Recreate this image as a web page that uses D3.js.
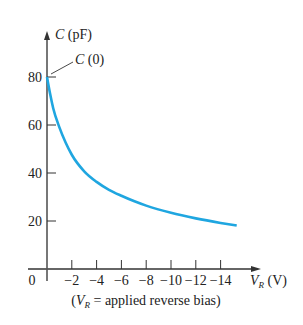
<!DOCTYPE html>
<html>
<head>
<meta charset="utf-8">
<script src="https://cdn.jsdelivr.net/npm/d3@7"></script>
<style>
body { margin:0; background:#fff; }
text { font-family: "Liberation Serif", "DejaVu Serif", serif; fill:#222; }
</style>
</head>
<body>
<div id="chart"></div>
<script>
// reverse bias (V) and capacitance (pF)
var volts = [0, 0.25, 0.5, 1, 1.5, 2, 3, 4, 5, 6, 7, 8, 10, 12, 14, 15.3]
var cap = [80, 73, 67, 59, 52.7, 47.6, 40.7, 36.3, 33, 30.5, 28.3, 26.4, 23.4, 21.1, 19.2, 18.1]
var xTicks = [2, 4, 6, 8, 10, 12, 14]
var yTicks = [20, 40, 60, 80]

var width = 303, height = 325
var svg = d3.select('#chart').append('svg')
            .attr('width', width)
            .attr('height', height)

var x = d3.scaleLinear().domain([0, 15]).range([47, 233])
var y = d3.scaleLinear().domain([0, 80]).range([269, 77])

var axisColor = '#333'
var fs = '14px'

// x axis line with arrow
svg.append('line')
    .attr('x1', 28).attr('x2', 256)
    .attr('y1', y(0)).attr('y2', y(0))
    .style('stroke', axisColor).style('stroke-width', 1.3)
svg.append('path')
    .attr('d', `M${261},${y(0)} L${251},${y(0)-3} L${251},${y(0)+3} Z`)
    .style('fill', axisColor)

// y axis line with arrow
svg.append('line')
    .attr('x1', x(0)).attr('x2', x(0))
    .attr('y1', 281).attr('y2', 37)
    .style('stroke', '#555').style('stroke-width', 1.6)
svg.append('path')
    .attr('d', `M${x(0)},${31} L${x(0)-3},${40} L${x(0)+3},${40} Z`)
    .style('fill', axisColor)

// x ticks (upward)
svg.selectAll('.xt').data(xTicks).enter().append('line')
    .attr('x1', d => x(d)).attr('x2', d => x(d))
    .attr('y1', y(0)).attr('y2', y(0) - 9)
    .style('stroke', axisColor).style('stroke-width', 1)

svg.selectAll('.xl').data(xTicks).enter().append('text')
    .attr('x', d => x(d)).attr('y', 285)
    .attr('text-anchor', 'middle')
    .style('font-size', fs)
    .text(d => '\u2212' + d)

svg.append('text').attr('x', 32).attr('y', 285)
    .attr('text-anchor', 'middle').style('font-size', fs).text('0')

// y ticks (rightward)
svg.selectAll('.yt').data(yTicks).enter().append('line')
    .attr('x1', x(0)).attr('x2', x(0) + 9)
    .attr('y1', d => y(d)).attr('y2', d => y(d))
    .style('stroke', axisColor).style('stroke-width', 1)

svg.selectAll('.yl').data(yTicks).enter().append('text')
    .attr('x', 42).attr('y', d => y(d) + 5)
    .attr('text-anchor', 'end')
    .style('font-size', fs)
    .text(d => d)

// curve
var line = d3.line()
    .x((d, i) => x(volts[i]))
    .y(d => y(d))
    .curve(d3.curveMonotoneX)

svg.append('path')
    .datum(cap)
    .attr('d', line)
    .style('fill', 'none')
    .style('stroke', '#1fa6e0')
    .style('stroke-width', 2.6)

// labels
var cLab = svg.append('text').attr('x', 55).attr('y', 39).style('font-size', fs)
cLab.append('tspan').style('font-style', 'italic').text('C')
cLab.append('tspan').text(' (pF)')

var c0 = svg.append('text').attr('x', 75).attr('y', 64).style('font-size', fs)
c0.append('tspan').style('font-style', 'italic').text('C')
c0.append('tspan').text(' (0)')

svg.append('line')
    .attr('x1', 51).attr('y1', 74).attr('x2', 73).attr('y2', 62)
    .style('stroke', axisColor).style('stroke-width', 0.9)

var vr = svg.append('text').attr('x', 250).attr('y', 285).style('font-size', fs)
vr.append('tspan').style('font-style', 'italic').text('V')
vr.append('tspan').style('font-style', 'italic').style('font-size', '9px').attr('dy', 3).text('R')
vr.append('tspan').attr('dy', -3).text(' (V)')

var note = svg.append('text').attr('x', 146).attr('y', 305)
    .attr('text-anchor', 'middle').style('font-size', fs)
note.append('tspan').text('(')
note.append('tspan').style('font-style', 'italic').text('V')
note.append('tspan').style('font-style', 'italic').style('font-size', '9px').attr('dy', 3).text('R')
note.append('tspan').attr('dy', -3).text(' = applied reverse bias)')
</script>
</body>
</html>
